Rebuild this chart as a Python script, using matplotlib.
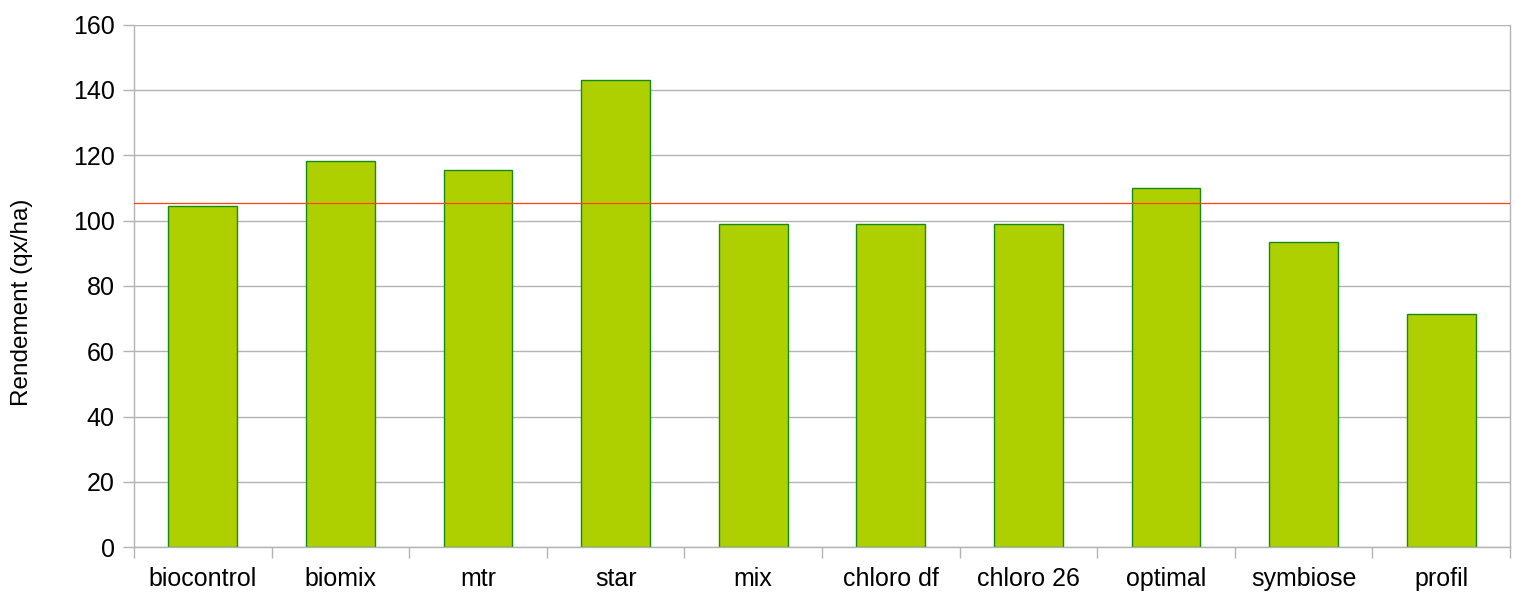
import matplotlib
matplotlib.use("Agg")
import matplotlib.pyplot as plt
import numpy as np

# données
categories = ["biocontrol", "biomix", "mtr", "star", "mix", "chloro df",
              "chloro 26", "optimal", "symbiose", "profil"]
rendement = [104.5, 118.2, 115.5, 142.9, 99.0, 99.0, 99.0, 109.9, 93.5, 71.5]
moyenne = 105.3
yticks = [0, 20, 40, 60, 80, 100, 120, 140, 160]

plt.rcParams['font.family'] = ['Liberation Sans', 'DejaVu Sans']

fig = plt.figure(figsize=(15.16, 5.95), dpi=100)
ax = fig.add_axes([134 / 1516, 1 - 547.3 / 595, 1376 / 1516, (547.3 - 24.5) / 595])

x = np.arange(len(categories))
ax.bar(x, rendement, width=0.5, color='#aecf00', edgecolor='#168a16',
       linewidth=1, zorder=2)
ax.axhline(moyenne, color='#ff420e', linewidth=0.9, zorder=3)

ax.set_xlim(-0.5, len(categories) - 0.5)
ax.set_ylim(0, 160)
ax.set_yticks(yticks)
ax.set_yticklabels([str(v) for v in yticks], fontsize=18)
ax.yaxis.grid(True, color='#b3b3b3', linewidth=1, zorder=0)
ax.set_axisbelow(True)

# étiquettes au centre, graduations entre les catégories
ax.set_xticks(x)
ax.set_xticklabels(categories, fontsize=18)
ax.set_xticks(np.arange(-0.5, len(categories)), minor=True)
ax.tick_params(axis='x', which='major', length=0, pad=14)
ax.tick_params(axis='x', which='minor', length=8, color='#b3b3b3', width=1)
ax.tick_params(axis='y', length=8, color='#b3b3b3', width=1, pad=6)

for s in ax.spines.values():
    s.set_color('#b3b3b3')
    s.set_linewidth(1)
ax.spines['top'].set_visible(False)

fig.text(22 / 1516, 1 - 302.5 / 595, 'Rendement (qx/ha)', rotation=90,
         ha='center', va='center', fontsize=17.5)

plt.savefig('out.png', dpi=100)
